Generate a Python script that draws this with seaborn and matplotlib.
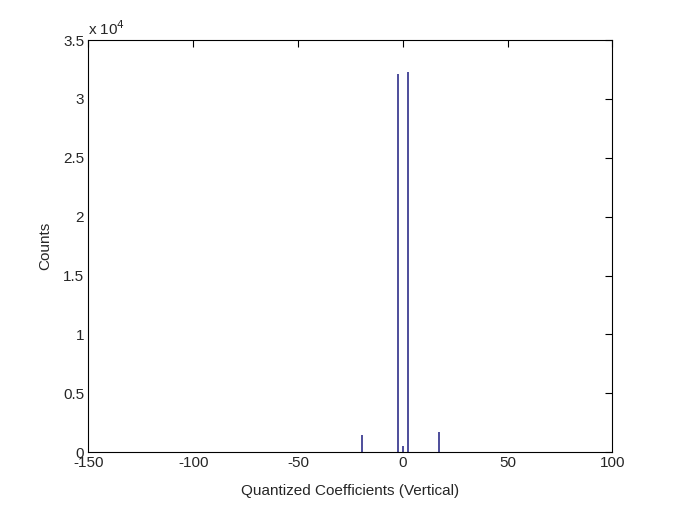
"""Histogramm der quantisierten Koeffizienten (vertikal) im MATLAB-Stil."""

import matplotlib
matplotlib.use('Agg')
import matplotlib.pyplot as plt
import seaborn as sns
from matplotlib.ticker import FuncFormatter

# Daten
coeff_values = [-19.6, -2.2, 0.0, 2.6, 17.3]
counts = [1430, 32100, 480, 32260, 1720]

x_ticks = [-150, -100, -50, 0, 50, 100]
y_ticks = [0, 5000, 10000, 15000, 20000, 25000, 30000, 35000]

sns.set_style('white')
plt.rcParams['font.family'] = ['Liberation Sans', 'DejaVu Sans']
plt.rcParams['axes.unicode_minus'] = False
plt.rcParams['xtick.direction'] = 'in'
plt.rcParams['ytick.direction'] = 'in'

fig = plt.figure(figsize=(6.77, 5.08), dpi=100)
ax = fig.add_axes([0.1305, 0.110, 0.774, 0.811])

ax.vlines(coeff_values, 0, counts, colors='#1c1c80', linewidth=1.1)

ax.set_xlim(-150, 100)
ax.set_ylim(0, 35000)
ax.set_xticks(x_ticks)
ax.set_yticks(y_ticks)
ax.yaxis.set_major_formatter(FuncFormatter(lambda v, _: f'{v / 1e4:g}'))
ax.tick_params(axis='both', which='both', top=True, right=True, length=5,
               width=0.8, labelsize=11, color='black', pad=3)

for spine in ax.spines.values():
    spine.set_visible(True)
    spine.set_color('black')
    spine.set_linewidth(0.8)

ax.text(0.0, 1.005, r'x 10$^{4}$', transform=ax.transAxes, fontsize=11,
        ha='left', va='bottom')

ax.set_xlabel('Quantized Coefficients (Vertical)', fontsize=11, labelpad=10)
ax.set_ylabel('Counts', fontsize=11, labelpad=8)

fig.savefig('out.png', dpi=100, facecolor='white')
plt.close(fig)
